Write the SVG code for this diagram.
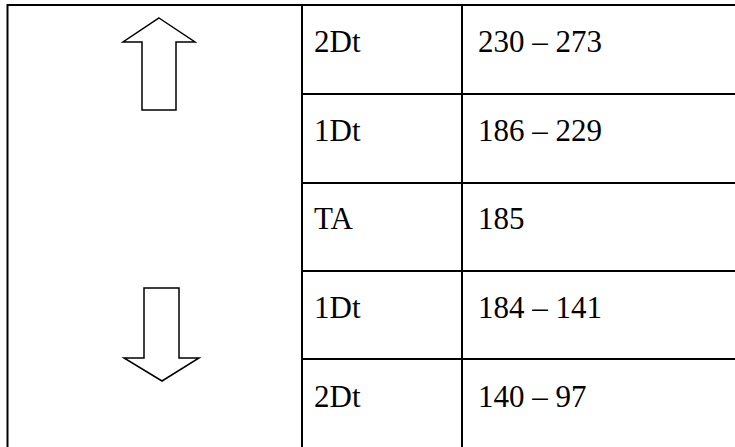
<svg xmlns="http://www.w3.org/2000/svg" width="735" height="447" viewBox="0 0 735 447">
<style>
.grid{stroke:#000;stroke-width:2;fill:none}
.arrow{fill:#fff;stroke:#000;stroke-width:1.5;stroke-linejoin:miter}
.t{font-family:'Liberation Serif','Times New Roman','DejaVu Serif',serif;font-size:31px;fill:#000}
</style>
<rect width="735" height="447" fill="#fff"/>
<g id="table" class="grid">
<line x1="7" y1="5" x2="735" y2="5"/>
<line x1="7.5" y1="4" x2="7.5" y2="447"/>
<line x1="302" y1="4" x2="302" y2="447"/>
<line x1="462" y1="4" x2="462" y2="447"/>
<line x1="302" y1="94" x2="735" y2="94"/>
<line x1="302" y1="183" x2="735" y2="183"/>
<line x1="302" y1="271" x2="735" y2="271"/>
<line x1="302" y1="359" x2="735" y2="359"/>
</g>
<g id="arrow-up">
<polygon class="arrow" points="159,18 195,42 176,42 176,110 142,110 142,42 123,42"/>
</g>
<g id="arrow-down">
<polygon class="arrow" points="144,288 179,288 179,358 199,358 162,381 124,358 144,358"/>
</g>
<g id="row1"><text class="t" x="314" y="52" font-family="Liberation Serif, serif">2Dt</text><text class="t" x="478" y="52" font-family="Liberation Serif, serif">230 – 273</text></g>
<g id="row2"><text class="t" x="314" y="141" font-family="Liberation Serif, serif">1Dt</text><text class="t" x="478" y="141" font-family="Liberation Serif, serif">186 – 229</text></g>
<g id="row3"><text class="t" x="314" y="229" font-family="Liberation Serif, serif">TA</text><text class="t" x="478" y="229" font-family="Liberation Serif, serif">185</text></g>
<g id="row4"><text class="t" x="314" y="318" font-family="Liberation Serif, serif">1Dt</text><text class="t" x="478" y="318" font-family="Liberation Serif, serif">184 – 141</text></g>
<g id="row5"><text class="t" x="314" y="407" font-family="Liberation Serif, serif">2Dt</text><text class="t" x="478" y="407" font-family="Liberation Serif, serif">140 – 97</text></g>
</svg>
